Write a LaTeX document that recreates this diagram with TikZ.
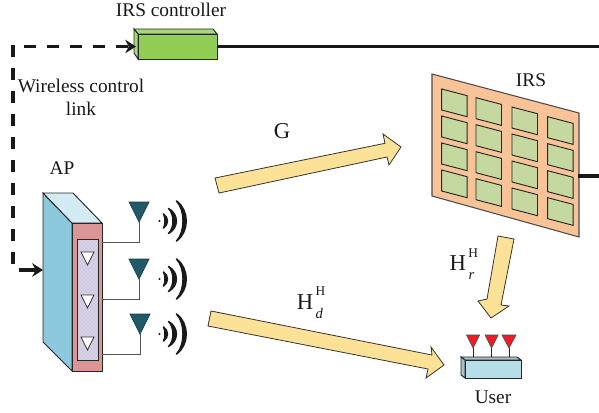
\documentclass[tikz,border=0pt]{standalone}
\usepackage{fontspec}
\setmainfont{Liberation Serif}
\usetikzlibrary{arrows.meta,patterns}
\definecolor{apside}{HTML}{8CC8DC}
\definecolor{aptop}{HTML}{D3ECF3}
\definecolor{apfront}{HTML}{D99694}
\definecolor{apinner}{HTML}{CFC6E0}
\definecolor{antblue}{HTML}{215968}
\definecolor{ctrlfront}{HTML}{92CD55}
\definecolor{ctrltop}{HTML}{A9D77C}
\definecolor{irsfill}{HTML}{F9C398}
\definecolor{cellfill}{HTML}{C4D8A0}
\definecolor{flow}{HTML}{FCE296}
\definecolor{userfill}{HTML}{B7DDE9}
\definecolor{antred}{HTML}{EE1C25}
\definecolor{wire}{HTML}{555555}
\tikzset{
  x=0.75pt,y=-0.75pt,
  lbl/.style={font=\fontsize{14.5}{17}\selectfont,inner sep=0pt,text=black!90},
  biglbl/.style={font=\fontsize{17}{19}\selectfont,inner sep=0pt,text=black!90},
  solidface/.style={draw=black!85,line width=0.7pt,line join=miter},
  flowarrow/.style={fill=flow,draw=black!80,line width=0.6pt,line join=miter},
  busline/.style={line width=2.6pt,black!90},
  ctrl/.style={line width=2.6pt,black!90,dash pattern=on 9pt off 8.25pt},
  tip/.style={-{Stealth[length=8pt,width=10pt,inset=2.5pt]}},
  feed/.style={draw=wire,line width=0.7pt},
  wave/.style={fill=black!90,draw=black!90,line width=1.1pt,line join=round},
  cell/.style={fill=cellfill,draw=black!85,line width=0.7pt,line join=miter},
  innertri/.style={fill=white,draw=black!80,line width=0.6pt},
  tant/.style={fill=antblue,draw=antblue!70!black,line width=0.5pt},
  rant/.style={fill=antred,draw=black!70,line width=0.5pt},
}
% #1: row y
\newcommand{\waveset}[1]{%
  \foreach \xa/\ha/\xo/\xi in {163.5/7/168.8/165.5, 168.5/12.5/179/174.5, 176.5/20/189.5/185.2}{
    \filldraw[wave] (\xa,#1-\ha) .. controls (\xo,#1-\ha*0.55) and (\xo,#1+\ha*0.55) .. (\xa,#1+\ha)
      .. controls (\xi,#1+\ha*0.55) and (\xi,#1-\ha*0.55) .. (\xa,#1-\ha) -- cycle;
  }
  \fill[black!90] (159.5,#1) circle (1.2);
}
% H with superscript H and italic subscript
\newcommand{\chan}[1]{H\rlap{\raisebox{0.6em}{\fontsize{10}{12}\selectfont\,H}}\raisebox{-0.4em}{\fontsize{11}{12}\selectfont\,\itshape #1}}
\begin{document}
\begin{tikzpicture}
\useasboundingbox (0,0) rectangle (599,412);
\fill[white] (0,0) rectangle (599,412);

% named anchor points
\coordinate (corner) at (13,46.5);
\coordinate (lower) at (13,264);
\coordinate (apstart) at (19,270);
\coordinate (apin) at (43,270);
\coordinate (ctrlin) at (136,46.5);
\coordinate (ctrlout) at (217,46.5);
\coordinate (busend) at (599,46.5);
\coordinate (irsout) at (578,176);
\coordinate (irsend) at (599,176);

% IRS controller
\draw[solidface,fill=ctrltop] (134,29) -- (213,29) -- (217,34) -- (138,34) -- cycle;
\draw[solidface,fill=ctrltop] (134,29) -- (138,34) -- (138,59) -- (134,53) -- cycle;
\draw[solidface,fill=ctrlfront] (138,34) rectangle (217,59);
\node[lbl] (ctrllabel) at (171,10) {IRS controller};
\draw[busline] (ctrlout) -- (busend);
\draw[ctrl,dash phase=9pt,tip] (corner) -- (ctrlin);

% Control link into the AP
\draw[ctrl] ([yshift=1pt]corner) -- (lower);
\draw[busline,tip] (apstart) -- (apin);
\node[lbl] (wl1) at (81,86) {Wireless control};
\node[lbl] (wl2) at (81,109) {link};
\node[lbl] (aplabel) at (62,168) {AP};

% AP
\draw[solidface,fill=apside] (43,193) -- (72,223) -- (72,371) -- (43,342) -- cycle;
\draw[solidface,fill=aptop] (43,193) -- (73,193) -- (102,223) -- (72,223) -- cycle;
\draw[solidface,fill=apfront] (72,223) rectangle (102,371);
\fill[apinner] (77,239) rectangle (98,360);
\fill[pattern=crosshatch dots,pattern color=white] (77,239) rectangle (98,360);
\draw[solidface] (77,239) rectangle (98,360);
\foreach \ty in {252,295,337}{
  \draw[innertri] (81,\ty) -- (94,\ty) -- (87.5,\ty+13) -- cycle;
}

% Antennas
\foreach \ax/\ay/\fy in {139/202/242,139/259/299,140/314/354}{
  \draw[feed] (\ax,\ay+20) -- (\ax,\fy) -- (102,\fy);
  \draw[tant] (\ax-10,\ay) -- (\ax+10,\ay) -- (\ax,\ay+20) -- cycle;
}
\waveset{221}
\waveset{279}
\waveset{334}

% IRS
\draw[line width=0.8pt,fill=irsfill,draw=black!70] (432,74) -- (579,113) -- (579,237) -- (432,196) -- cycle;
\foreach \cx/\cy in {441.7/89,476/97.7,512/107,547.7/116.7}{
  \foreach \r in {0,1,2,3}{
    \draw[cell] (\cx,\cy+27*\r) -- (\cx+25.5,\cy+27*\r+6.7) -- (\cx+25.5,\cy+27*\r+27.7) -- (\cx,\cy+27*\r+21) -- cycle;
  }
}
\node[lbl] (irslabel) at (531,80) {IRS};
\draw[busline] (irsout) -- (irsend);

% Flow arrows
\draw[flowarrow] (215,178) -- (385,143.3) -- (383,134) -- (401,147) -- (389,165) -- (387,157) -- (219,193) -- cycle;
\draw[flowarrow] (211,311) -- (432,355) -- (431,347) -- (444,365) -- (426,378) -- (428,369) -- (208,326) -- cycle;
\draw[flowarrow] (498,236) -- (514,239) -- (501,305) -- (509,306) -- (491,318) -- (478,301) -- (487,299) -- cycle;
\node[biglbl] (glabel) at (282,131) {G};
\node[biglbl] (hd) at (310,303) {\chan{d}};
\node[biglbl] (hr) at (462,264) {\chan{r}};

% User
\foreach \ux/\uw in {473/6.5,491.5/6.5,509/7}{
  \draw[feed,black!85] (\ux,348) -- (\ux,357);
  \draw[rant] (\ux-\uw,335) -- (\ux+\uw,335) -- (\ux,348) -- cycle;
}
\draw[solidface,fill=userfill!70!gray] (461,357) -- (517,357) -- (521,360) -- (465,360) -- cycle;
\draw[solidface,fill=userfill!70!gray] (461,357) -- (465,360) -- (465,378) -- (461,375) -- cycle;
\draw[solidface,fill=userfill] (465,360) rectangle (521,378);
\node[lbl] (userlabel) at (493,397) {User};
\end{tikzpicture}
\end{document}
